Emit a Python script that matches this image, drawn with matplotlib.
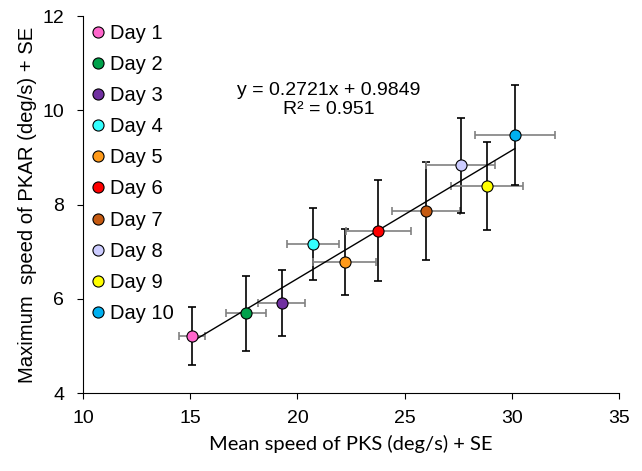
import matplotlib
matplotlib.use("Agg")
import matplotlib.pyplot as plt
import numpy as np

days = ["Day 1", "Day 2", "Day 3", "Day 4", "Day 5", "Day 6", "Day 7", "Day 8", "Day 9", "Day 10"]
x_mean = [15.08, 17.6, 19.26, 20.74, 22.21, 23.78, 25.99, 27.62, 28.83, 30.14]
y_max = [5.21, 5.69, 5.90, 7.16, 6.78, 7.44, 7.86, 8.83, 8.39, 9.47]
x_se = [0.62, 0.94, 1.1, 1.22, 1.46, 1.5, 1.57, 1.6, 1.68, 1.88]
y_se = [0.62, 0.8, 0.7, 0.77, 0.7, 1.07, 1.04, 1.0, 0.93, 1.06]
colors = ["#FF66CC", "#00A14B", "#7030A0", "#33FFFF", "#FF9A1A", "#FF0000",
          "#C55A11", "#CCCCFF", "#FFFF00", "#00B0F0"]
slope, intercept = 0.2721, 0.9849
eq_text = "y = 0.2721x + 0.9849\nR² = 0.951"

plt.rcParams['font.family'] = ['Liberation Sans', 'DejaVu Sans']
fig = plt.figure(figsize=(6.42, 4.71), dpi=100)
ax = fig.add_axes([0.1293, 0.1656, 0.8349, 0.8004])

xs = np.array([min(x_mean), max(x_mean)])
ax.plot(xs, slope * xs + intercept, color="black", lw=1, zorder=2)

for i in range(len(days)):
    ax.errorbar(x_mean[i], y_max[i], xerr=x_se[i], fmt="none", ecolor="#808080",
                elinewidth=1.2, capsize=3, capthick=1.2, zorder=1)
    ax.errorbar(x_mean[i], y_max[i], yerr=y_se[i], fmt="none", ecolor="black",
                elinewidth=1.2, capsize=3, capthick=1.2, zorder=1)
    ax.plot(x_mean[i], y_max[i], "o", color=colors[i], mec="black", mew=0.8,
            ms=8, label=days[i], zorder=3, linestyle="none")

ax.text(21.45, 10.22, eq_text, ha="center", va="center", fontsize=14, linespacing=1.12)

ax.set_xlim(10, 35)
ax.set_ylim(4, 12)
ax.set_xticks([10, 15, 20, 25, 30, 35])
ax.set_yticks([4, 6, 8, 10, 12])
ax.tick_params(labelsize=14, direction="out", length=4)
ax.tick_params(axis="y", pad=9.5)
ax.tick_params(axis="x", pad=8)
for s in ["top", "right"]:
    ax.spines[s].set_visible(False)

ax.set_ylabel("Maximum  speed of PKAR (deg/s) + SE", fontsize=14.6, labelpad=4)
ax.set_xlabel("Mean speed of PKS (deg/s) + SE", fontsize=14.5, family=["Lato", "DejaVu Sans"],
              labelpad=6)

ax.legend(loc="upper left", frameon=False, fontsize=14.5, handletextpad=0.1,
          labelspacing=0.6, borderaxespad=0.0, handlelength=1.0, borderpad=0.25,
          bbox_to_anchor=(0.0, 0.992))

fig.savefig("out.png", dpi=100)
